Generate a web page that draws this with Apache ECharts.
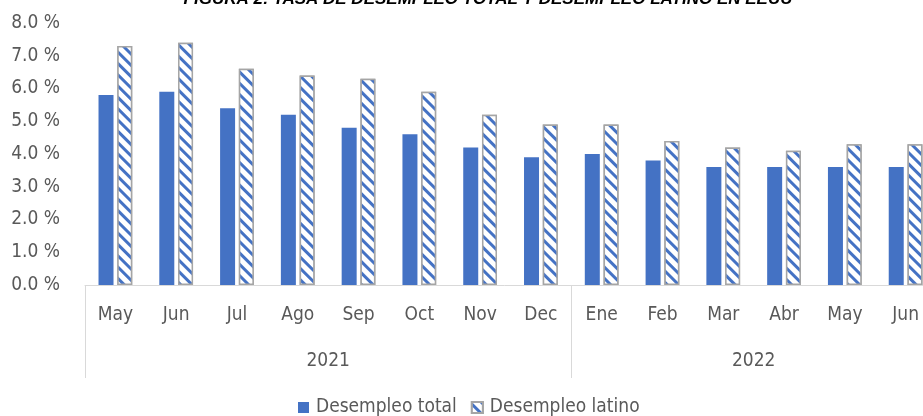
<!DOCTYPE html>
<html>
<head>
<meta charset="utf-8">
<script src="https://cdn.jsdelivr.net/npm/echarts@6/dist/echarts.min.js"></script>
<style>
  html, body { margin: 0; padding: 0; background: #fff; overflow: hidden; }
  #chart { width: 923px; height: 416px; }
</style>
</head>
<body>
<div id="chart"></div>
<script>
const months = ["May", "Jun", "Jul", "Ago", "Sep", "Oct", "Nov", "Dec", "Ene", "Feb", "Mar", "Abr", "May", "Jun"];
const years = ["2021", "2022"];
const yearStart = [0, 8];
const yearEnd = [8, 14];
const desempleoTotal = [5.8, 5.9, 5.4, 5.2, 4.8, 4.6, 4.2, 3.9, 4.0, 3.8, 3.6, 3.6, 3.6, 3.6];
const desempleoLatino = [7.3, 7.4, 6.6, 6.4, 6.3, 5.9, 5.2, 4.9, 4.9, 4.4, 4.2, 4.1, 4.3, 4.3];

const txtFont = "'Liberation Sans Narrow', 'DejaVu Sans Condensed', sans-serif";
const blue = "#4472C4";

let chart = echarts.init(document.getElementById("chart"));
let option = {
  animation: false,
  title: {
    text: "FIGURA 2: TASA DE DESEMPLEO TOTAL Y DESEMPLEO LATINO EN EEUU",
    left: 483,
    textAlign: "center",
    top: -14,
    textStyle: {
      fontFamily: "'Liberation Sans', Arial, sans-serif",
      fontSize: 17,
      fontWeight: "bold",
      fontStyle: "italic",
      color: "#000"
    }
  },
  legend: {
    data: ["Desempleo total", "Desempleo latino"],
    bottom: -6,
    left: 293,
    icon: "rect",
    itemWidth: 11,
    itemHeight: 11,
    itemGap: 14,
    textStyle: {
      fontFamily: txtFont,
      fontSize: 19,
      color: "#595959",
      padding: [0, 0, 0, 2]
    }
  },
  grid: {
    left: 85,
    width: 851,
    top: 23,
    bottom: 131,
    outerBoundsMode: "none"
  },
  xAxis: [
    {
      type: "category",
      data: months,
      axisLine: { lineStyle: { color: "#D9D9D9", width: 1 } },
      axisTick: {
        show: true,
        length: 93,
        lineStyle: { color: "#D9D9D9" },
        interval: function (index) {
          return yearStart.indexOf(index) >= 0;
        }
      },
      axisLabel: {
        interval: 0,
        margin: 21,
        fontFamily: txtFont,
        fontSize: 19,
        color: "#595959"
      }
    },
    {
      type: "value",
      position: "bottom",
      min: 0,
      max: 14,
      interval: 1,
      axisLine: { show: false },
      axisTick: { show: false },
      splitLine: { show: false },
      axisLabel: {
        margin: 67,
        fontFamily: txtFont,
        fontSize: 19,
        color: "#595959",
        showMinLabel: true,
        showMaxLabel: true,
        formatter: function (v) {
          for (let i = 0; i < years.length; i++) {
            if (v === (yearStart[i] + yearEnd[i]) / 2) return years[i];
          }
          return "";
        }
      }
    }
  ],
  yAxis: {
    type: "value",
    min: 0,
    max: 8,
    interval: 1,
    axisLine: { show: false },
    axisTick: { show: false },
    splitLine: { show: false },
    axisLabel: {
      margin: 25,
      fontFamily: txtFont,
      fontSize: 19,
      color: "#595959",
      formatter: function (v) {
        return v.toFixed(1) + " %";
      }
    }
  },
  series: [
    {
      name: "Desempleo total",
      type: "bar",
      xAxisIndex: 0,
      data: desempleoTotal,
      barWidth: 15,
      barGap: "25%",
      itemStyle: { color: blue }
    },
    {
      name: "Desempleo latino",
      type: "bar",
      xAxisIndex: 0,
      data: desempleoLatino,
      barWidth: 15,
      itemStyle: {
        color: "#fff",
        borderColor: "#A5A5A5",
        borderWidth: 1.5,
        decal: {
          symbol: "rect",
          symbolSize: 1,
          color: blue,
          backgroundColor: "#fff",
          dashArrayX: [1, 0],
          dashArrayY: [3, 5],
          rotation: Math.PI / 4
        }
      }
    }
  ]
};
chart.setOption(option);
</script>
</body>
</html>
